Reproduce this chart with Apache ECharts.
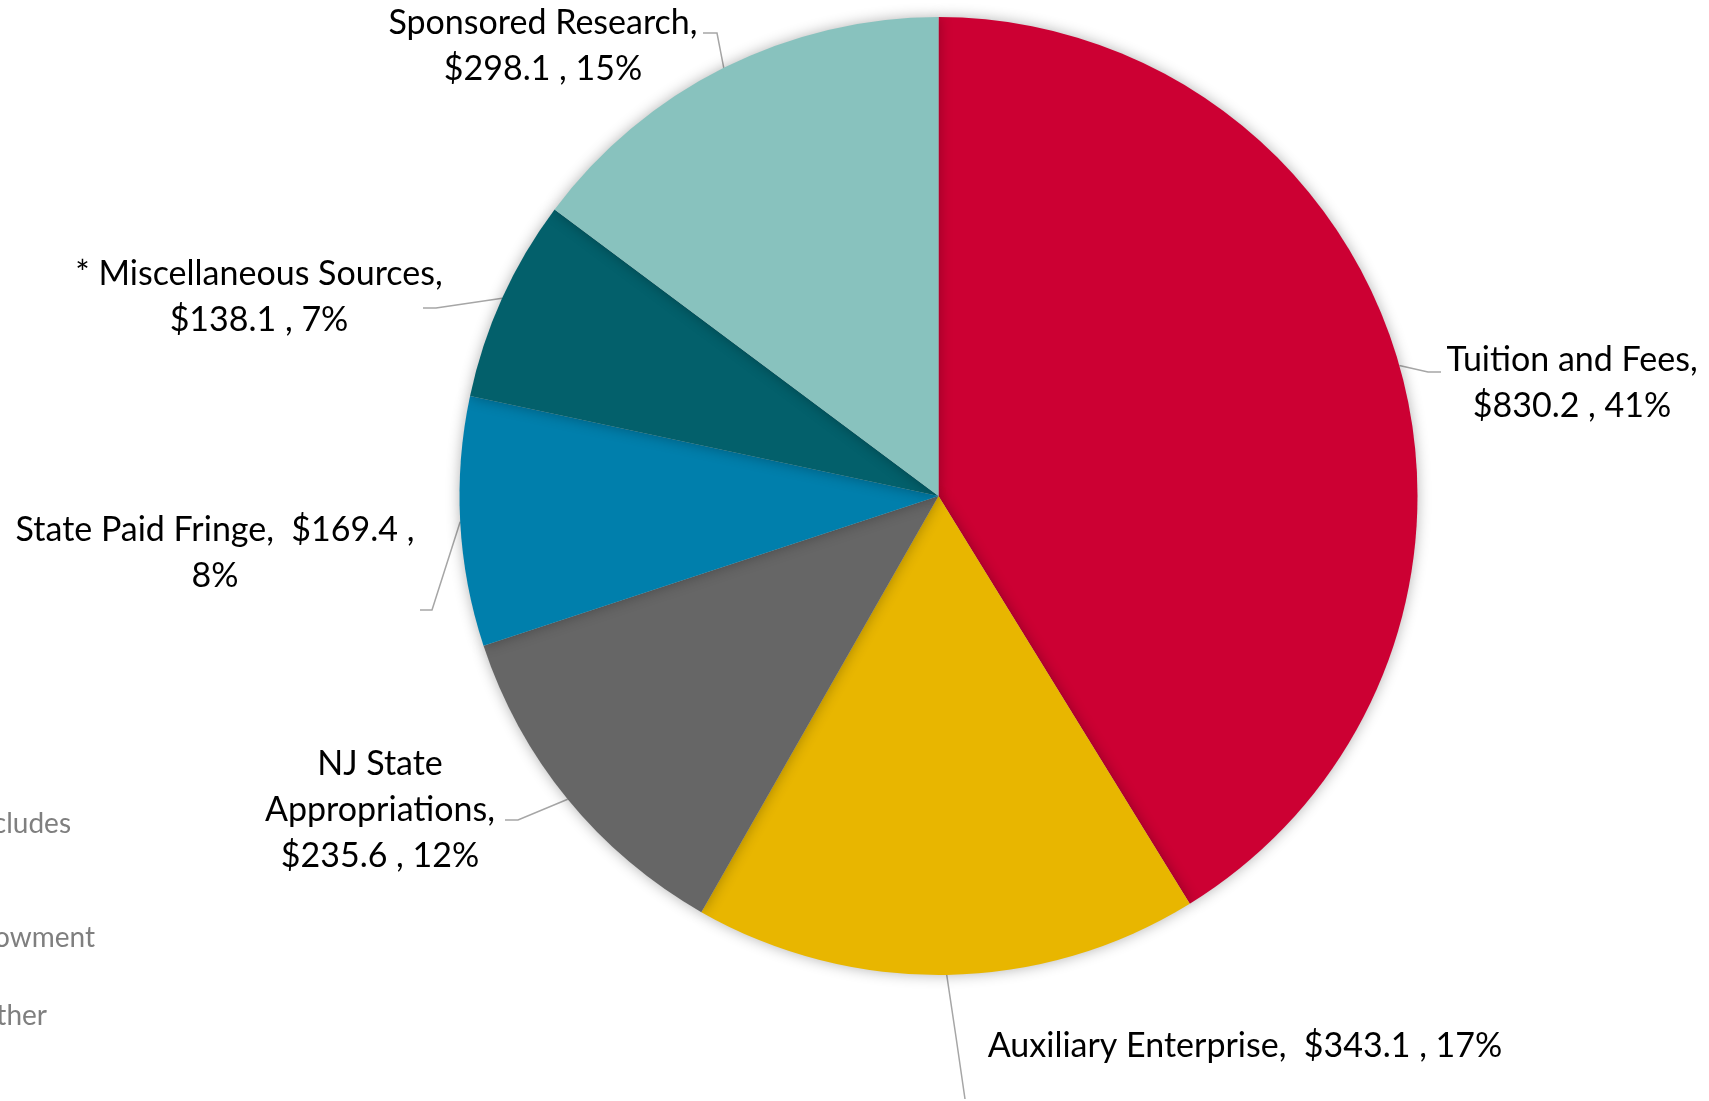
<!DOCTYPE html>
<html>
<head>
<meta charset="utf-8">
<title>Revenue Sources</title>
<script src="https://cdn.jsdelivr.net/npm/echarts@6/dist/echarts.min.js"></script>
<style>
  html, body { margin: 0; padding: 0; background: #ffffff; }
  #chart { width: 1709px; height: 1101px; }
</style>
</head>
<body>
<div id="chart"></div>
<script>
// Revenue by source ($ millions), clockwise from 12 o'clock
const categories = [
  'Tuition and Fees',
  'Auxiliary Enterprise',
  'NJ State Appropriations',
  'State Paid Fringe',
  '* Miscellaneous Sources',
  'Sponsored Research'
];
const amounts = [830.2, 343.1, 235.6, 169.4, 138.1, 298.1];
const sliceColors = ['#CC0033', '#E8B600', '#666666', '#007FAC', '#03606B', '#88C2BE'];

// word index after which each label wraps onto a new line
const labelBreaks = [[2], [], [1, 2], [3], [2], [1]];

// label block centres and leader-line elbows/ends
const labelCenters = [[1572, 383], [1245, 1046], [380, 810], [215, 553], [259, 297], [543, 46]];
const leaderPaths = [
  [[1428, 372], [1441, 372]],
  [[956, 1037], [965, 1099]],
  [[518, 820], [505, 820]],
  [[432, 610], [420, 610]],
  [[436, 308], [423, 308]],
  [[717, 33], [703, 33]]
];

// footnote fragments running off the left edge
const footnoteBits = [
  { text: 'cludes', right: 71, y: 824 },
  { text: 'owment', right: 95, y: 938 },
  { text: 'ther', right: 47, y: 1016 }
];

const center = [938.5, 496];
const radius = 479;
const total = amounts.reduce((a, b) => a + b, 0);

// point on the pie rim at the middle angle of slice i
function rimPoint(i) {
  let start = 0;
  for (let k = 0; k < i; k++) start += amounts[k];
  const mid = (start + amounts[i] / 2) / total * Math.PI * 2;
  return [center[0] + radius * Math.sin(mid), center[1] - radius * Math.cos(mid)];
}

function labelText(p) {
  const words = p.name.split(' ');
  words[words.length - 1] += ',';
  const tokens = words.concat(['$' + p.value.toFixed(1) + ' ,', p.percent + '%']);
  const breaks = labelBreaks[p.dataIndex];
  const nameEnd = words.length - 1;
  let s = '';
  tokens.forEach((t, i) => {
    s += t;
    if (i === tokens.length - 1) return;
    if (breaks.indexOf(i) >= 0) s += '\n';
    else s += (i === nameEnd ? '  ' : ' ');
  });
  return s;
}

const chart = echarts.init(document.getElementById('chart'), null, { renderer: 'canvas' });

chart.setOption({
  backgroundColor: '#ffffff',
  animation: false,
  graphic: footnoteBits.map(f => ({
    type: 'text',
    x: f.right,
    y: f.y,
    style: {
      text: f.text,
      align: 'right',
      verticalAlign: 'middle',
      fill: '#7F7F7F',
      font: '28px Lato'
    }
  })),
  series: [{
    type: 'pie',
    center: center,
    radius: radius,
    startAngle: 90,
    clockwise: true,
    percentPrecision: 0,
    avoidLabelOverlap: false,
    itemStyle: {
      borderWidth: 0,
      shadowBlur: 14,
      shadowColor: 'rgba(0,0,0,0.30)'
    },
    label: {
      show: true,
      position: 'outside',
      formatter: labelText,
      fontFamily: 'Lato',
      fontSize: 34,
      lineHeight: 46,
      color: '#000000',
      align: 'center',
      overflow: 'none',
      bleedMargin: 0,
      edgeDistance: 0
    },
    labelLine: {
      show: true,
      lineStyle: { color: '#A6A6A6', width: 1.5 }
    },
    labelLayout: function (params) {
      const i = params.dataIndex;
      const c = labelCenters[i];
      return {
        x: c[0],
        y: c[1],
        align: 'center',
        verticalAlign: 'middle',
        width: 600,
        labelLinePoints: [rimPoint(i), leaderPaths[i][0], leaderPaths[i][1]]
      };
    },
    data: categories.map((name, i) => ({
      name: name,
      value: amounts[i],
      itemStyle: { color: sliceColors[i] }
    }))
  }]
});
</script>
</body>
</html>
